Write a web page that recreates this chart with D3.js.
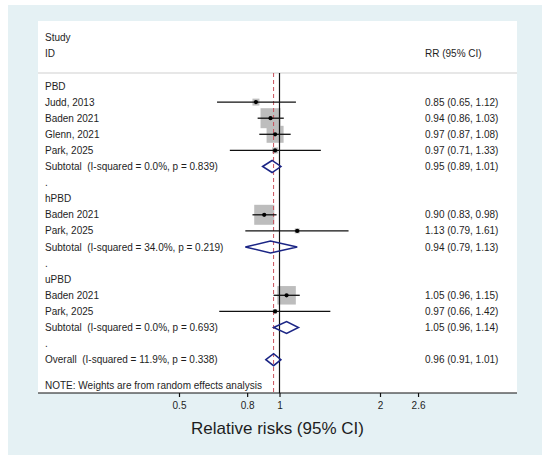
<!DOCTYPE html>
<html>
<head>
<meta charset="utf-8">
<script src="https://cdn.jsdelivr.net/npm/d3@7"></script>
<style>
  body { margin: 0; background: #fff; }
  svg { display: block; font-family: "Liberation Sans", Arial, sans-serif; }
  text { white-space: pre; }
</style>
</head>
<body>
<svg id="chart" width="550" height="463"></svg>
<script>
// study-level data, one inner array per subgroup
const groups = ["PBD", "hPBD", "uPBD"];
const studyLabels = [
  ["Judd, 2013", "Baden 2021", "Glenn, 2021", "Park, 2025"],
  ["Baden 2021", "Park, 2025"],
  ["Baden 2021", "Park, 2025"],
];
const rr = [[0.85, 0.94, 0.97, 0.97], [0.90, 1.13], [1.05, 0.97]];
const lower = [[0.65, 0.86, 0.87, 0.71], [0.83, 0.79], [0.96, 0.66]];
const upper = [[1.12, 1.03, 1.08, 1.33], [0.98, 1.61], [1.15, 1.42]];
const weights = [[3.1, 25.6, 18.5, 2.3], [25.6, 1.6], [21.9, 1.3]];

// pooled estimates
const subRR = [0.95, 0.94, 1.05];
const subLower = [0.89, 0.79, 0.96];
const subUpper = [1.01, 1.13, 1.14];
const subI2 = ["0.0%", "34.0%", "0.0%"];
const subP = ["0.839", "0.219", "0.693"];
const overall = { rr: 0.96, lo: 0.91, hi: 1.01, i2: "11.9%", p: "0.338" };

const xTicks = [0.5, 0.8, 1, 2, 2.6];

const fmt = d3.format(".2f");
const ciText = (m, l, u) => `${fmt(m)} (${fmt(l)}, ${fmt(u)})`;

// flatten into display rows
const rows = [];
groups.forEach((g, gi) => {
  rows.push({ type: "group", label: g });
  studyLabels[gi].forEach((s, si) => {
    rows.push({
      type: "study", label: s,
      rr: rr[gi][si], lo: lower[gi][si], hi: upper[gi][si], w: weights[gi][si],
    });
  });
  rows.push({
    type: "pool",
    label: `Subtotal  (I-squared = ${subI2[gi]}, p = ${subP[gi]})`,
    rr: subRR[gi], lo: subLower[gi], hi: subUpper[gi],
  });
  rows.push({ type: "gap", label: "." });
});
rows.push({
  type: "pool",
  label: `Overall  (I-squared = ${overall.i2}, p = ${overall.p})`,
  rr: overall.rr, lo: overall.lo, hi: overall.hi,
});
rows.forEach((d, i) => (d.i = i));

const svg = d3.select("#chart");
const panel = { x: 38, y: 21, w: 479, h: 372 };
const headerY = 73;
const textColor = "#1e1e1e";

svg.append("rect")
  .attr("x", 8).attr("y", 5).attr("width", 534).attr("height", 450)
  .attr("fill", "#e5f1f4");
svg.append("rect")
  .attr("x", panel.x).attr("y", panel.y).attr("width", panel.w).attr("height", panel.h)
  .attr("fill", "#fff");

const x = d3.scaleLog().domain([0.5, 2]).range([179, 380]);
const y = d3.scaleLinear().domain([0, rows.length - 1]).range([86, 359.7]);
const box = d3.scaleSqrt().domain([0, 25.6]).range([0, 20]);

// header
const header = svg.append("g").attr("fill", textColor).attr("font-size", 10);
header.append("text").attr("x", 45).attr("y", 37.7).attr("dy", "0.35em").text("Study");
header.append("text").attr("x", 45).attr("y", 53.3).attr("dy", "0.35em").text("ID");
header.append("text").attr("x", 425).attr("y", 53.3).attr("dy", "0.35em").text("RR (95% CI)");
svg.append("line")
  .attr("x1", panel.x).attr("x2", panel.x + panel.w)
  .attr("y1", headerY).attr("y2", headerY)
  .attr("stroke", "#cfcfcf").attr("stroke-width", 1.2);

const axisY = panel.y + panel.h;

// boxes first, reference lines over them
const studyRows = rows.filter((d) => d.type === "study");
svg.append("g").selectAll("rect")
  .data(studyRows)
  .join("rect")
  .attr("x", (d) => x(d.rr) - box(d.w) / 2)
  .attr("y", (d) => y(d.i) - box(d.w) / 2)
  .attr("width", (d) => box(d.w))
  .attr("height", (d) => box(d.w))
  .attr("fill", "#bdbdbd");

svg.append("line")
  .attr("x1", x(1)).attr("x2", x(1))
  .attr("y1", headerY).attr("y2", axisY)
  .attr("stroke", "#111").attr("stroke-width", 1.2);
svg.append("line")
  .attr("x1", x(overall.rr)).attr("x2", x(overall.rr))
  .attr("y1", headerY).attr("y2", axisY)
  .attr("stroke", "#c9505c").attr("stroke-width", 1)
  .attr("stroke-dasharray", "4,3");

svg.append("g").selectAll("line")
  .data(studyRows)
  .join("line")
  .attr("x1", (d) => x(d.lo)).attr("x2", (d) => x(d.hi))
  .attr("y1", (d) => y(d.i)).attr("y2", (d) => y(d.i))
  .attr("stroke", "#111").attr("stroke-width", 1.3);
svg.append("g").selectAll("circle")
  .data(studyRows)
  .join("circle")
  .attr("cx", (d) => x(d.rr)).attr("cy", (d) => y(d.i))
  .attr("r", 2.1).attr("fill", "#000");

// pooled diamonds
const poolRows = rows.filter((d) => d.type === "pool");
svg.append("g").selectAll("path")
  .data(poolRows)
  .join("path")
  .attr("d", (d) => {
    const cy = y(d.i), h = 6;
    return `M${x(d.lo)},${cy}L${x(d.rr)},${cy - h}L${x(d.hi)},${cy}L${x(d.rr)},${cy + h}Z`;
  })
  .attr("fill", "none")
  .attr("stroke", "#1b2585")
  .attr("stroke-width", 1.5);

// row labels and estimates
const labels = svg.append("g").attr("fill", textColor).attr("font-size", 10);
labels.selectAll("text.lab")
  .data(rows)
  .join("text")
  .attr("class", "lab")
  .attr("x", 45).attr("y", (d) => y(d.i)).attr("dy", "0.35em")
  .text((d) => d.label);
labels.selectAll("text.est")
  .data(rows.filter((d) => d.rr !== undefined))
  .join("text")
  .attr("class", "est")
  .attr("x", 425).attr("y", (d) => y(d.i)).attr("dy", "0.35em")
  .text((d) => ciText(d.rr, d.lo, d.hi));
labels.append("text")
  .attr("x", 45).attr("y", 385).attr("dy", "0.35em")
  .text("NOTE: Weights are from random effects analysis");

// x axis
const axis = svg.append("g")
  .attr("transform", `translate(0,${axisY})`)
  .call(d3.axisBottom(x).tickValues(xTicks).tickFormat((d) => String(d)).tickSize(4).tickPadding(5));
axis.select(".domain").remove();
axis.selectAll(".tick line").attr("stroke", "#111").attr("stroke-width", 1.2);
axis.selectAll(".tick text")
  .attr("fill", textColor)
  .attr("font-size", 10)
  .attr("font-family", "Liberation Sans, Arial, sans-serif");
svg.append("line")
  .attr("x1", panel.x).attr("x2", panel.x + panel.w)
  .attr("y1", axisY).attr("y2", axisY)
  .attr("stroke", "#111").attr("stroke-width", 1.2);

svg.append("text")
  .attr("x", x(1) - 2).attr("y", 428).attr("dy", "0.35em")
  .attr("text-anchor", "middle")
  .attr("font-size", 17)
  .attr("fill", textColor)
  .text("Relative risks (95% CI)");
</script>
</body>
</html>
